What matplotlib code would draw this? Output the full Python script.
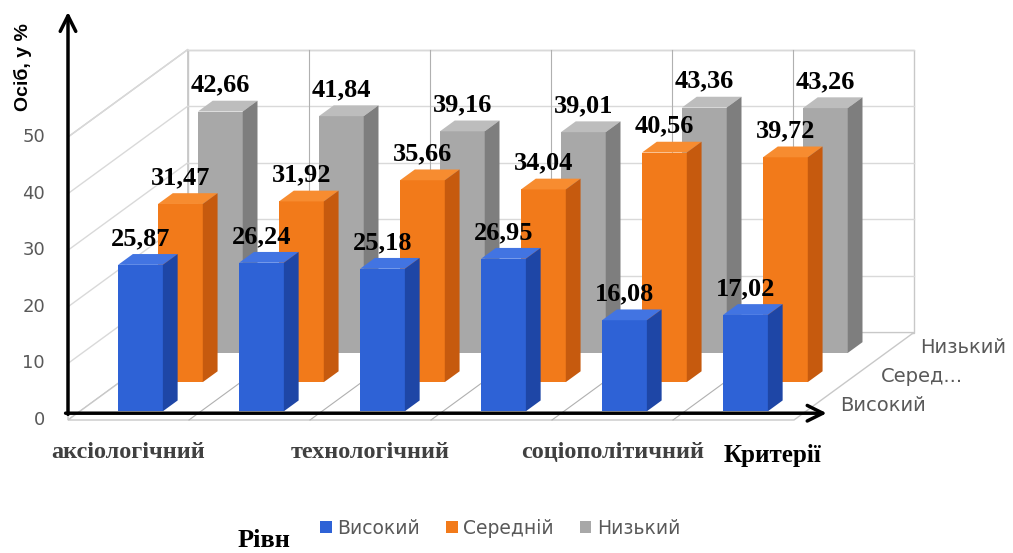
import numpy as np
import matplotlib
matplotlib.use('Agg')
import matplotlib.pyplot as plt
import matplotlib.transforms as mtransforms
from matplotlib.patches import Rectangle

# data
categories = ['аксіологічний', '', 'технологічний', '', 'соціополітичний', '']
series = ['Високий', 'Середній', 'Низький']
depth_labels = ['Високий', 'Серед...', 'Низький']
vysokyi = [25.87, 26.24, 25.18, 26.95, 16.08, 17.02]
serednii = [31.47, 31.92, 35.66, 34.04, 40.56, 39.72]
nyzkyi = [42.66, 41.84, 39.16, 39.01, 43.36, 43.26]
yticks = [0, 10, 20, 30, 40, 50]

data = [vysokyi, serednii, nyzkyi]
# front, side, top
colors = [('#2E62D6', '#1E46A6', '#4274E2'),
          ('#F27A1A', '#C65A0E', '#F78C30'),
          ('#A8A8A8', '#7E7E7E', '#BDBDBD')]

SERIF = 'Liberation Serif'
SANS = 'DejaVu Sans'

fig = plt.figure(figsize=(10.13, 5.53), dpi=100)
ax = fig.add_axes([0, 0, 1, 1])
# 1 category = 121 px, 1 % = 5.66 px, floor front-left corner at pixel (68, 420)
ax.set_xlim(-68 / 121, (1013 - 68) / 121)
ax.set_ylim(-133 / 5.66, 420 / 5.66)
ax.axis('off')

DX, DZ = 0.33, 5.15          # oblique shift for one row of depth
NC, NR, ZMAX = len(categories), len(series), yticks[-1]
W = 0.37


def skew(a, b, c, d, e, f):
    m = np.array([[a, b, c], [d, e, f], [0, 0, 1.0]])
    return mtransforms.Affine2D(m) + ax.transData


wall = skew(DX, 0, 0, DZ, 1, 0)             # (depth, value)
back = skew(1, 0, NR * DX, 0, 1, NR * DZ)   # (category, value)
floor = skew(1, DX, 0, 0, DZ, 0)            # (category, depth)

for tr, w, h in [(wall, NR, ZMAX), (back, NC, ZMAX), (floor, NC, NR)]:
    ax.add_patch(Rectangle((0, 0), w, h, transform=tr, fc='white',
                           ec='#C8C8C8', lw=1, zorder=1))
for v in yticks[1:]:
    ax.plot([0, NR], [v, v], transform=wall, color='#D9D9D9', lw=1, zorder=1.5)
    ax.plot([0, NC], [v, v], transform=back, color='#D9D9D9', lw=1, zorder=1.5)
for k in range(1, NC):
    ax.plot([k, k], [0, ZMAX], transform=back, color='#B0B0B0', lw=0.8, zorder=1.5)
    ax.plot([k, k], [0, NR], transform=floor, color='#B0B0B0', lw=0.8, zorder=1.5)

handles = {}
xs = np.arange(NC) + 0.5
for k in reversed(range(NR)):
    front, side, top = colors[k]
    t0, t1 = k + 0.3, k + 0.67
    z = 3 + (NR - k)
    shift = mtransforms.Affine2D().translate(t0 * DX, t0 * DZ) + ax.transData
    handles[k] = ax.bar(xs, data[k], W, color=front, transform=shift,
                        zorder=z, label=series[k])
    for x, v in zip(xs, data[k]):
        ax.add_patch(Rectangle((x - W / 2, t0), W, t1 - t0,
                               transform=skew(1, DX, 0, 0, DZ, v), fc=top, zorder=z))
        ax.add_patch(Rectangle((t0, 0), t1 - t0, v,
                               transform=skew(DX, 0, x + W / 2, DZ, 1, 0), fc=side, zorder=z))
        ax.annotate(f'{v:.2f}'.replace('.', ','), xy=(x + t0 * DX, v + t0 * DZ),
                    xytext=(0, 19), textcoords='offset points', ha='center', va='center',
                    fontsize=19, fontweight='bold', family=SERIF, zorder=12)

# value axis labels
for v in yticks:
    ax.text(-0.19, v, str(v), ha='right', va='center', fontsize=13,
            color='#595959', family=SANS)
# category labels (every other one shown)
for x, c in zip(xs, categories):
    if c:
        ax.text(x, -5.7, c, ha='center', va='center', fontsize=17.5,
                fontweight='bold', color='#404040', family=SERIF)
# depth labels
for k, lab in enumerate(depth_labels):
    ax.text(NC + (k + 0.5) * DX + 0.22, (k + 0.5) * DZ, lab, ha='left', va='center',
            fontsize=14, color='#595959', family=SANS)

# hand drawn axis arrows
arrow = dict(arrowstyle='->', lw=2.5, color='black', mutation_scale=28,
             shrinkA=0, shrinkB=0)
ax.annotate('', xy=(0, 72.1), xytext=(0, 1.0), arrowprops=arrow, zorder=10)
ax.annotate('', xy=(6.27, 1.2), xytext=(-0.02, 1.2), arrowprops=arrow, zorder=10)

ax.text(-0.372, 62.4, 'Осіб, у %', rotation=90, ha='center', va='center',
        fontsize=14, fontweight='bold', family='Liberation Sans')
ax.text(5.82, -6.2, 'Критерії', ha='center', va='center', fontsize=18,
        fontweight='bold', family=SERIF)
ax.text(1.62, -21.3, 'Рівн', ha='center', va='center', fontsize=19,
        fontweight='bold', family=SERIF)

leg = ax.legend([handles[k] for k in range(NR)], series, loc='center',
                bbox_to_anchor=(0.494, 0.045), ncol=3, frameon=False,
                handlelength=0.6, handleheight=0.6, handletextpad=0.3,
                columnspacing=1.4, prop={'family': SANS, 'size': 13.5})
for t in leg.get_texts():
    t.set_color('#595959')

fig.savefig('out.png', dpi=100)
